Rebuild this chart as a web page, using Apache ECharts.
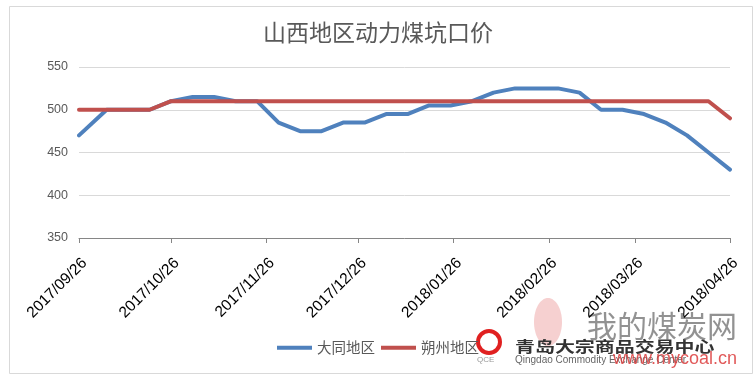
<!DOCTYPE html>
<html>
<head>
<meta charset="utf-8">
<script src="https://cdn.jsdelivr.net/npm/echarts@6/dist/echarts.min.js"></script>
<style>
html,body{margin:0;padding:0;background:#fff;}
#main{width:756px;height:374px;}
</style>
</head>
<body>
<div id="main"></div>
<script>
// ---- data ----
var dates = ['2017/09/26','2017/10/05','2017/10/12','2017/10/19','2017/10/26','2017/11/02','2017/11/09','2017/11/16','2017/11/23','2017/11/30',
             '2017/12/07','2017/12/14','2017/12/21','2017/12/28','2018/01/04','2018/01/11','2018/01/18','2018/01/25','2018/02/01','2018/02/08',
             '2018/02/15','2018/02/22','2018/03/01','2018/03/08','2018/03/15','2018/03/22','2018/03/29','2018/04/05','2018/04/12','2018/04/19','2018/04/26'];
var datong = [470,500,500,500,510,515,515,510,510,485,
              475,475,485,485,495,495,505,505,510,520,
              525,525,525,520,500,500,495,485,470,450,430];
var shuozhou = [500,500,500,500,510,510,510,510,510,510,
                510,510,510,510,510,510,510,510,510,510,
                510,510,510,510,510,510,510,510,510,510,490];
var tickDates = ['2017/09/26','2017/10/26','2017/11/26','2017/12/26','2018/01/26','2018/02/26','2018/03/26','2018/04/26'];
var seriesNames = ['大同地区','朔州地区'];
var titleText = '山西地区动力煤坑口价';

var DAY = 86400000;
function ts(s){ var p = s.split('/'); return Math.round(Date.UTC(+p[0], +p[1]-1, +p[2]) / DAY); }
function pad(n){ return n < 10 ? '0' + n : '' + n; }
function fmt(v){ var d = new Date(v * DAY); return d.getUTCFullYear() + '/' + pad(d.getUTCMonth()+1) + '/' + pad(d.getUTCDate()); }

var tickTs = tickDates.map(ts);
function pairs(vals){ return dates.map(function(d,i){ return [ts(d), vals[i]]; }); }

var chart = echarts.init(document.getElementById('main'), null, {renderer:'canvas'});
var option = {
  animation: false,
  backgroundColor: '#fff',
  title: {
    text: titleText, left: 'center', top: 16,
    textStyle: {fontSize: 23, fontWeight: 'normal', color: '#595959', fontFamily: 'Noto Sans CJK SC'}
  },
  grid: {left: 79, right: 26, top: 67, bottom: 136, containLabel: false},
  legend: {
    bottom: 14, left: 'center',
    itemWidth: 35, itemHeight: 4, itemGap: 6,
    icon: 'rect',
    textStyle: {fontSize: 14.5, color: '#595959', fontFamily: 'Noto Sans CJK SC'},
    data: seriesNames
  },
  xAxis: {
    type: 'value',
    min: ts(dates[0]), max: ts(dates[dates.length-1]),
    axisLine: {lineStyle: {color: '#868686', width: 1}},
    axisTick: {show: true, customValues: tickTs, length: 5, lineStyle: {color: '#868686'}},
    axisLabel: {customValues: tickTs, rotate: 45, margin: 17, verticalAlign: 'top', color: '#000', fontSize: 15.5,
                fontFamily: 'Liberation Sans', formatter: function(v){ return fmt(v); }},
    splitLine: {show: false}
  },
  yAxis: {
    type: 'value', min: 350, max: 550, interval: 50,
    axisLine: {show: false}, axisTick: {show: false},
    axisLabel: {color: '#595959', fontSize: 12.5, margin: 11, fontFamily: 'Liberation Sans'},
    splitLine: {lineStyle: {color: '#d9d9d9', width: 1}}
  },
  series: [
    {name: seriesNames[0], type: 'line', data: pairs(datong), symbol: 'none',
     lineStyle: {width: 4, color: '#4F81BD', cap: 'round', join: 'round'}, itemStyle: {color: '#4F81BD'}},
    {name: seriesNames[1], type: 'line', data: pairs(shuozhou), symbol: 'none',
     lineStyle: {width: 4, color: '#C0504D', cap: 'round', join: 'round'}, itemStyle: {color: '#C0504D'}}
  ],
  graphic: [
    {type: 'rect', left: 7, top: 4, shape: {width: 743, height: 367}, style: {fill: 'none', stroke: '#d9d9d9', lineWidth: 1}, silent: true, z: -1},
    {type: 'circle', shape: {cx: 489, cy: 342, r: 11}, style: {fill: 'none', stroke: '#e02020', lineWidth: 4}, silent: true},
    {type: 'text', x: 477, y: 356, style: {text: 'QCE', fontSize: 8, fill: '#999', fontFamily: 'Liberation Sans'}, silent: true},
    {type: 'ellipse', shape: {cx: 548, cy: 322, rx: 14, ry: 24}, style: {fill: 'rgba(230,120,120,0.35)'}, silent: true},
    {type: 'text', x: 515, y: 339, scaleX: 1.33, style: {text: '青岛大宗商品交易中心', fontSize: 15, fontWeight: 'bold', fill: '#333', fontFamily: 'Noto Sans CJK SC'}, silent: true},
    {type: 'text', x: 515, y: 355, style: {text: 'Qingdao Commodity Exchange Center', fontSize: 10, fill: '#666', fontFamily: 'Liberation Sans'}, silent: true},
    {type: 'text', x: 587, y: 311, style: {text: '我的煤炭网', fontSize: 30, fill: 'rgba(110,110,110,0.75)', fontFamily: 'Noto Sans CJK SC'}, silent: true},
    {type: 'text', x: 613, y: 350, style: {text: 'www.mycoal.cn', fontSize: 18, fill: 'rgba(220,60,60,0.85)', fontFamily: 'Liberation Sans'}, silent: true}
  ]
};
chart.setOption(option);
</script>
</body>
</html>
